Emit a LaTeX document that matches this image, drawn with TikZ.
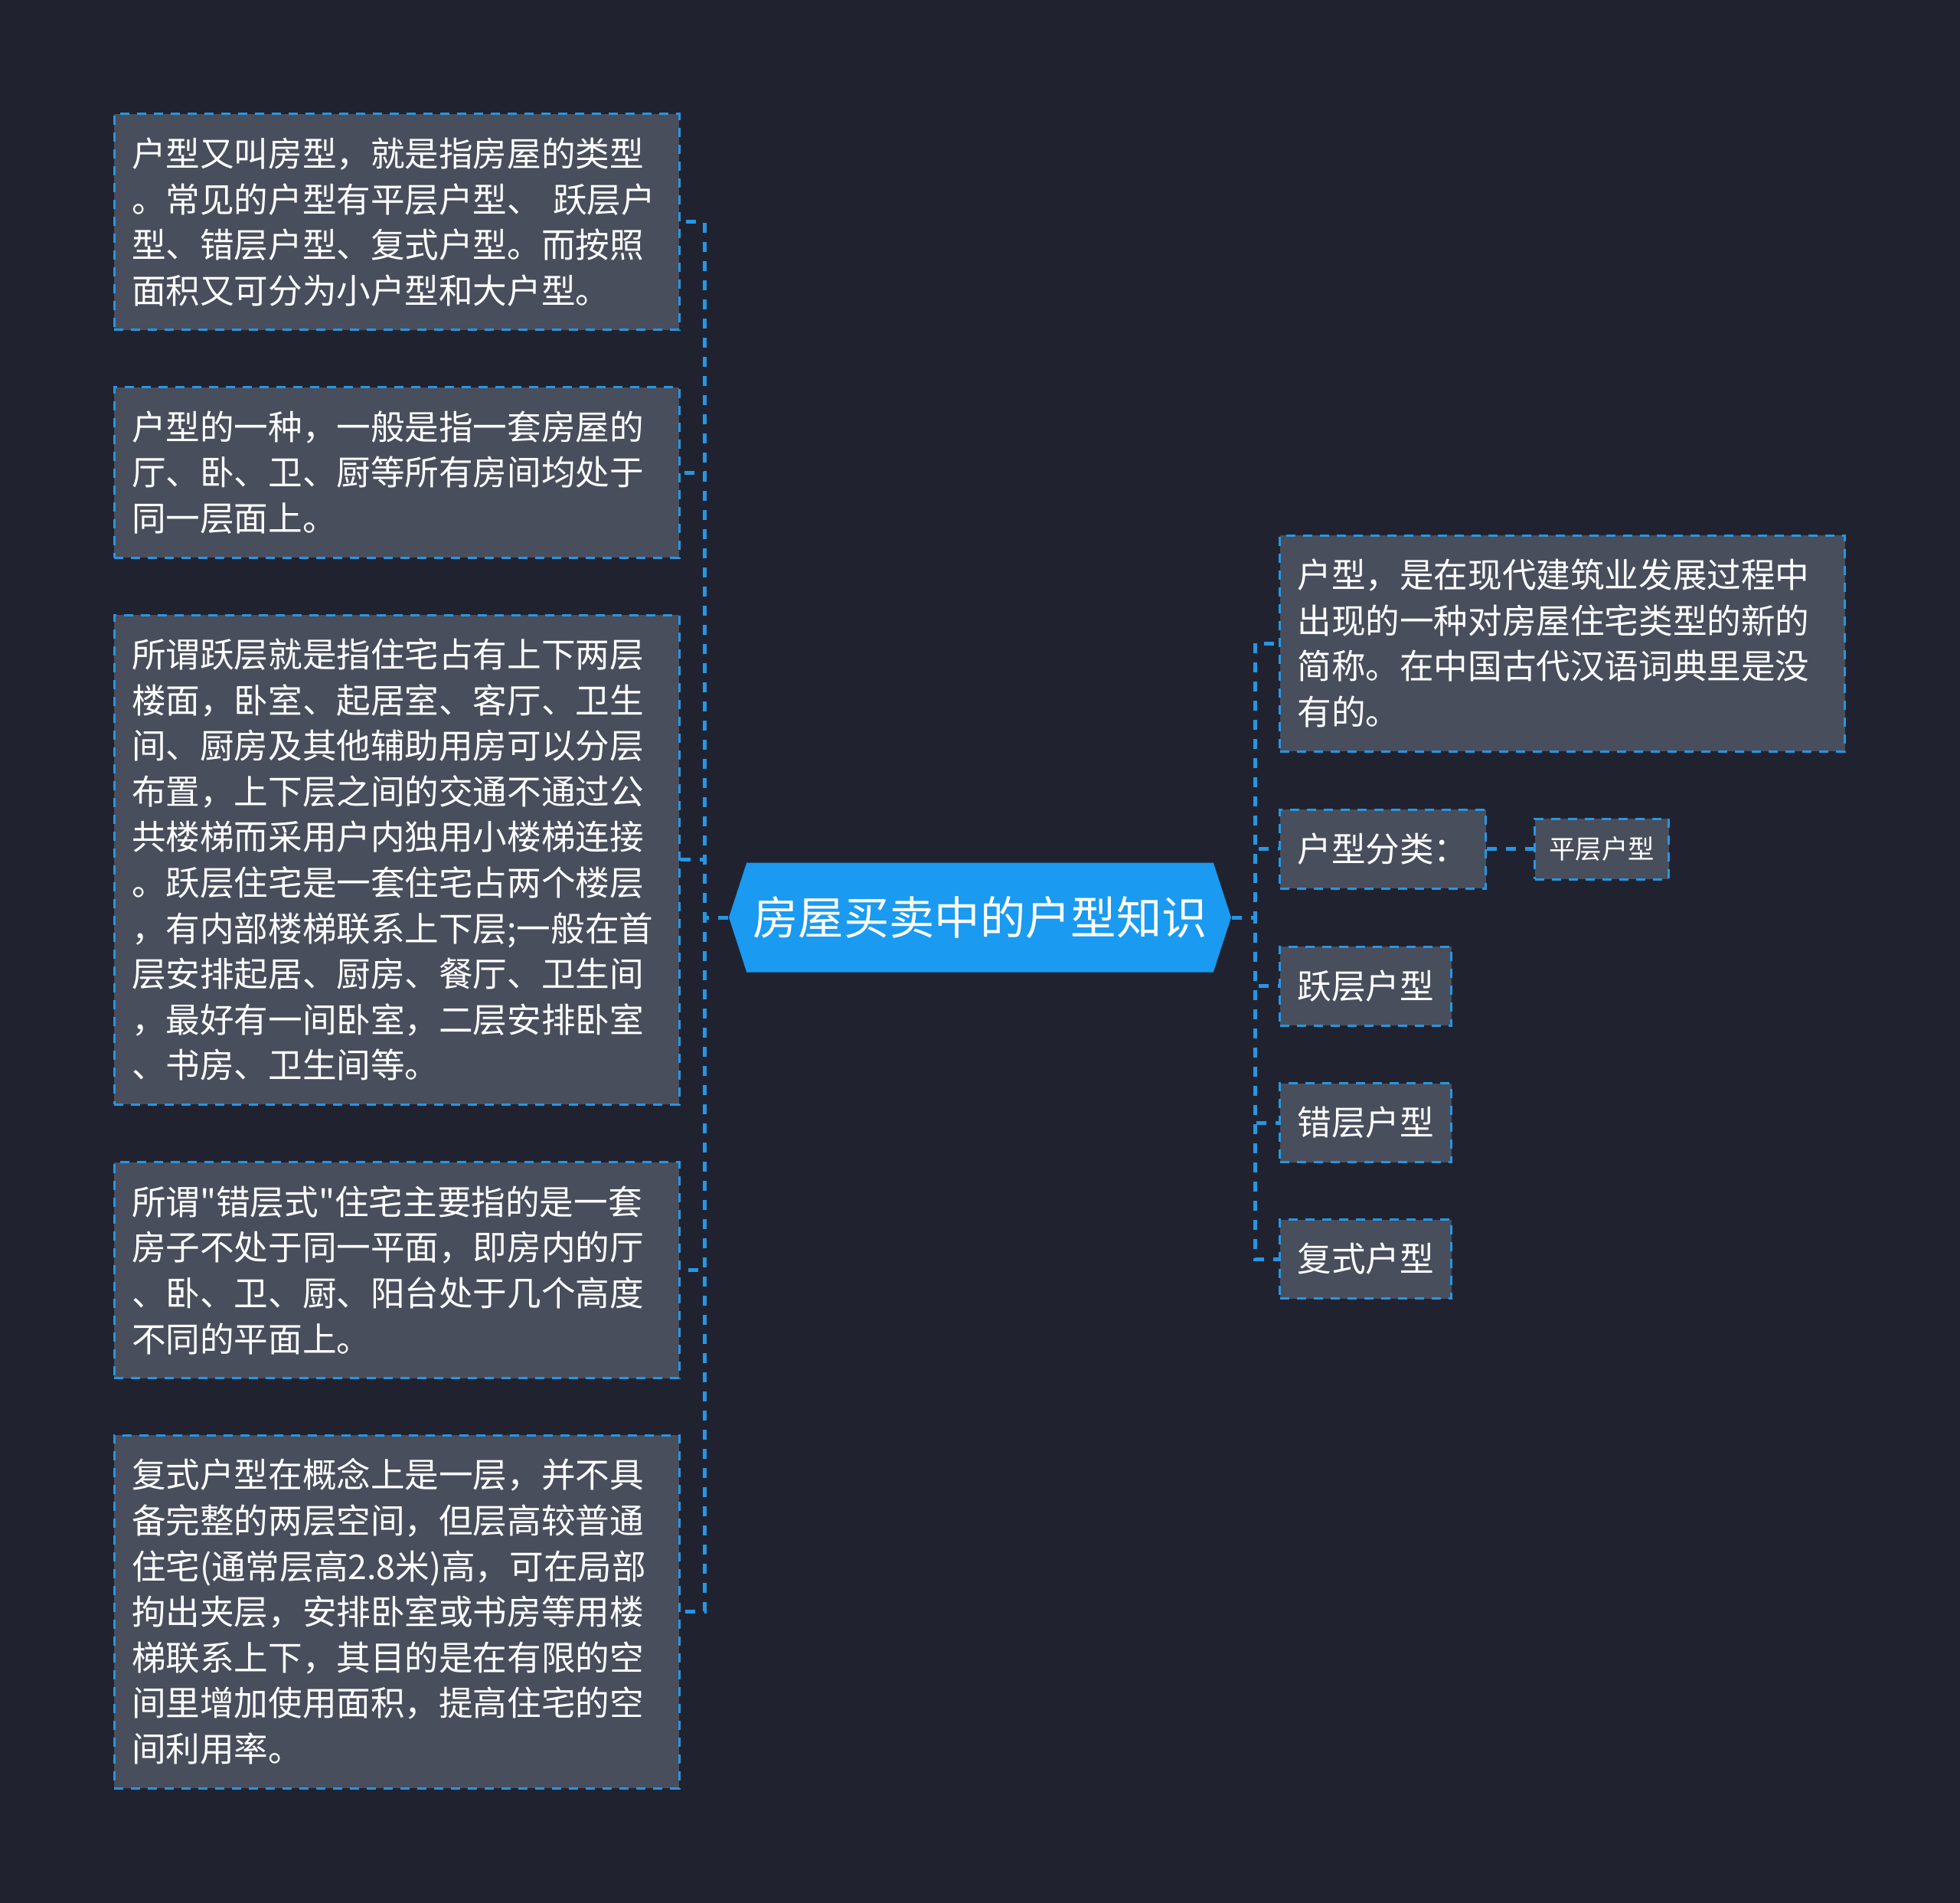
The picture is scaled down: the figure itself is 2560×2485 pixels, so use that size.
\documentclass[tikz,border=0pt]{standalone}
\usepackage{fontspec}
\setmainfont{Noto Sans CJK SC}
\newfontfamily\cjkfont{Noto Sans CJK SC}
\usepackage{tikz}
\usetikzlibrary{
	positioning,
	calc,
	shapes.symbols
}
\usepackage{xcolor}
\definecolor{bgdark}{RGB}{32,35,47}
\definecolor{boxgray}{RGB}{72,78,92}
\definecolor{linkblue}{RGB}{38,150,228}
\definecolor{rootblue}{RGB}{26,154,240}

\begin{document}
\begin{tikzpicture}[x=0.3pt,y=-0.3pt,
	leaf/.style={draw=linkblue, line width=0.9pt, dash pattern=on 3.6pt off 3pt,
		fill=boxgray, text=white, font=\cjkfont\fontsize{13.38}{17.88}\selectfont,
		inner xsep=6.9pt, inner ysep=0pt, align=left, text width=207.6pt},
	tag/.style={draw=linkblue, line width=0.9pt, dash pattern=on 3.6pt off 3pt,
		fill=boxgray, text=white, font=\cjkfont\fontsize{13.38}{17.88}\selectfont,
		inner xsep=6.9pt, inner ysep=0pt, minimum height=30.9pt, anchor=west},
	small/.style={tag, font=\cjkfont\fontsize{10.3}{12}\selectfont,
		inner xsep=5.7pt, minimum height=23.7pt},
	root/.style={signal, signal to=west and east, signal pointer angle=144,
		fill=rootblue, text=white, font=\cjkfont\fontsize{17.8}{20}\selectfont,
		minimum width=196.8pt, minimum height=42.9pt, inner sep=0pt},
	link/.style={draw=linkblue, line width=1.5pt, dash pattern=on 3.9pt off 3.6pt}
	]
	
	% Background
	\fill[bgdark] (0,0) rectangle (2560,2485);
	
	% Centre
	\node[root] (root) at (1280,1198) {房屋买卖中的户型知识};
	
	% Left side
	\node[leaf, minimum height=84.6pt] (l1) at (518,290)
	{户型又叫房型，就是指房屋的类型\\。常见的户型有平层户型、 跃层户\\型、错层户型、复式户型。而按照\\面积又可分为小户型和大户型。};
	\node[leaf, minimum height=66.6pt] (l2) at (518,617)
	{户型的一种，一般是指一套房屋的\\厅、卧、卫、厨等所有房间均处于\\同一层面上。};
	\node[leaf, minimum height=191.7pt] (l3) at (518,1122.5)
	{所谓跃层就是指住宅占有上下两层\\楼面，卧室、起居室、客厅、卫生\\间、厨房及其他辅助用房可以分层\\布置，上下层之间的交通不通过公\\共楼梯而采用户内独用小楼梯连接\\。跃层住宅是一套住宅占两个楼层\\，有内部楼梯联系上下层;一般在首\\层安排起居、厨房、餐厅、卫生间\\，最好有一间卧室，二层安排卧室\\、书房、卫生间等。};
	\node[leaf, minimum height=84.6pt] (l4) at (518,1658.5)
	{所谓"错层式"住宅主要指的是一套\\房子不处于同一平面，即房内的厅\\、卧、卫、厨、阳台处于几个高度\\不同的平面上。};
	\node[leaf, minimum height=138.3pt] (l5) at (518,2104.5)
	{复式户型在概念上是一层，并不具\\备完整的两层空间，但层高较普通\\住宅(通常层高2.8米)高，可在局部\\拘出夹层，安排卧室或书房等用楼\\梯联系上下，其目的是在有限的空\\间里增加使用面积，提高住宅的空\\间利用率。};
	
	% Right side
	\node[leaf, minimum height=84.6pt, anchor=west] (r1) at (1670,840)
	{户型，是在现代建筑业发展过程中\\出现的一种对房屋住宅类型的新的\\简称。在中国古代汉语词典里是没\\有的。};
	\node[tag] (r2) at (1670,1108.5) {户型分类：};
	\node[small] (r2a) at (2003,1108.5) {平层户型};
	\node[tag] (r3) at (1670,1287.5) {跃层户型};
	\node[tag] (r4) at (1670,1466) {错层户型};
	\node[tag] (r5) at (1670,1644) {复式户型};
	
	% Connectors
	\coordinate (lbar) at (920,1198);
	\coordinate (rbar) at (1639,1198);
	\foreach \n in {l1,l2,l3,l4,l5}
	\draw[link] (root.west) -- (lbar) |- (\n.east);
	\foreach \n in {r1,r2,r3,r4,r5}
	\draw[link] (root.east) -- (rbar) |- (\n.west);
	\draw[link] (r2.east) -- (r2a.west);
	
\end{tikzpicture}
\end{document}
